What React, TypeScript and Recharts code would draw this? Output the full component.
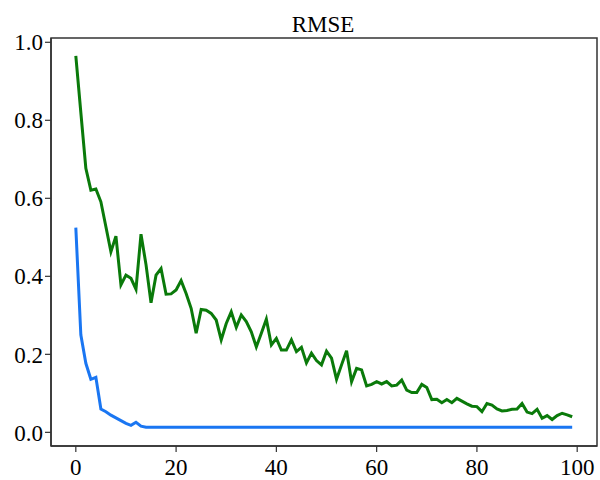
import React from "react";
import { LineChart, Line, XAxis, YAxis, ReferenceArea } from "recharts";

const epochs: number[] = Array.from({ length: 100 }, (_, i) => i);

const greenRmse: number[] = [
  0.965, 0.82, 0.677, 0.621, 0.624, 0.591, 0.527, 0.463, 0.503, 0.378,
  0.403, 0.395, 0.367, 0.508, 0.43, 0.332, 0.403, 0.42, 0.354, 0.355,
  0.365, 0.389, 0.356, 0.318, 0.254, 0.315, 0.313, 0.305, 0.288, 0.237,
  0.279, 0.309, 0.269, 0.301, 0.284, 0.258, 0.219, 0.254, 0.29, 0.224,
  0.241, 0.211, 0.211, 0.237, 0.207, 0.218, 0.178, 0.203, 0.184, 0.173,
  0.208, 0.19, 0.136, 0.173, 0.209, 0.13, 0.164, 0.16, 0.119, 0.123,
  0.13, 0.124, 0.13, 0.119, 0.121, 0.134, 0.108, 0.102, 0.102, 0.123,
  0.115, 0.084, 0.085, 0.076, 0.084, 0.076, 0.087, 0.08, 0.073, 0.067,
  0.066, 0.053, 0.074, 0.07, 0.06, 0.055, 0.056, 0.059, 0.06, 0.074,
  0.052, 0.048, 0.059, 0.036, 0.043, 0.033, 0.043, 0.049, 0.045, 0.04,
];

const blueRmse: number[] = [
  0.525, 0.25, 0.177, 0.136, 0.141, 0.06, 0.053, 0.044, 0.037, 0.03,
  0.023, 0.018, 0.026, 0.016, 0.013, 0.013, 0.013, 0.013, 0.013, 0.013,
  0.013, 0.013, 0.013, 0.013, 0.013, 0.013, 0.013, 0.013, 0.013, 0.013,
  0.013, 0.013, 0.013, 0.013, 0.013, 0.013, 0.013, 0.013, 0.013, 0.013,
  0.013, 0.013, 0.013, 0.013, 0.013, 0.013, 0.013, 0.013, 0.013, 0.013,
  0.013, 0.013, 0.013, 0.013, 0.013, 0.013, 0.013, 0.013, 0.013, 0.013,
  0.013, 0.013, 0.013, 0.013, 0.013, 0.013, 0.013, 0.013, 0.013, 0.013,
  0.013, 0.013, 0.013, 0.013, 0.013, 0.013, 0.013, 0.013, 0.013, 0.013,
  0.013, 0.013, 0.013, 0.013, 0.013, 0.013, 0.013, 0.013, 0.013, 0.013,
  0.013, 0.013, 0.013, 0.013, 0.013, 0.013, 0.013, 0.013, 0.013, 0.013,
];

const xTicks: number[] = [0, 20, 40, 60, 80, 100];
const yTicks: number[] = [0, 0.2, 0.4, 0.6, 0.8, 1.0];
const title = "RMSE";

const data = epochs.map((e, i) => ({ epoch: e, green: greenRmse[i], blue: blueRmse[i] }));

const FONT = "'Liberation Serif', 'Times New Roman', serif";
const AXIS = "#333333";

export default function App() {
  return (
    <div style={{ position: "absolute", left: 0, top: 0, width: 600, height: 480, background: "#fff" }}>
      <LineChart width={600} height={480} data={data} margin={{ top: 38, right: 3, bottom: 4, left: 0 }}>
        <XAxis
          dataKey="epoch"
          type="number"
          domain={[-4.95, 103.95]}
          ticks={xTicks}
          allowDataOverflow
          height={30}
          tickSize={6}
          tickMargin={7}
          axisLine={{ stroke: AXIS, strokeWidth: 1.5 }}
          tickLine={{ stroke: AXIS, strokeWidth: 1.2 }}
          tick={{ fill: "#000", fontSize: 23, fontFamily: FONT }}
        />
        <YAxis
          type="number"
          domain={[-0.035, 1.011]}
          ticks={yTicks}
          allowDataOverflow
          width={51}
          tickSize={6}
          tickMargin={2}
          tickFormatter={(v: number) => v.toFixed(1)}
          axisLine={{ stroke: AXIS, strokeWidth: 1.5 }}
          tickLine={{ stroke: AXIS, strokeWidth: 1.2 }}
          tick={{ fill: "#000", fontSize: 23, fontFamily: FONT }}
        />
        <ReferenceArea
          x1={-4.95}
          x2={103.95}
          y1={-0.035}
          y2={1.011}
          fill="none"
          fillOpacity={0}
          stroke={AXIS}
          strokeWidth={1.5}
          ifOverflow="visible"
        />
        <Line type="linear" dataKey="green" stroke="#0a7a0a" strokeWidth={3} dot={false} isAnimationActive={false} />
        <Line type="linear" dataKey="blue" stroke="#1a76f2" strokeWidth={3} dot={false} isAnimationActive={false} />
      </LineChart>
      <svg width={600} height={40} style={{ position: "absolute", left: 0, top: 0 }}>
        <text x={323} y={32} textAnchor="middle" fontSize={23} fontFamily={FONT} fill="#000">
          {title}
        </text>
      </svg>
    </div>
  );
}
